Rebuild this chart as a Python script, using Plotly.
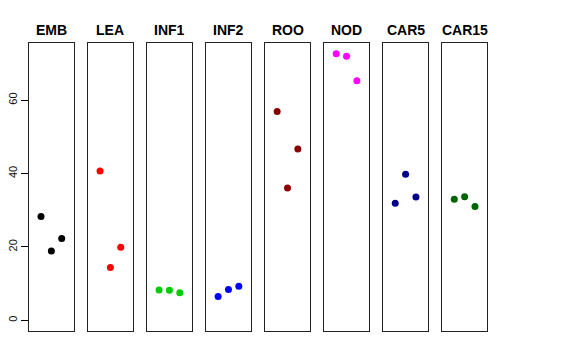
import plotly.graph_objects as go

categories = ["EMB", "LEA", "INF1", "INF2", "ROO", "NOD", "CAR5", "CAR15"]
colors = ["#000000", "#FF0000", "#00CD00", "#0000FF", "#8B0000", "#FF00FF", "#00008B", "#006400"]
positions = [1, 2, 3]
values = {
    "EMB": [28.3, 18.9, 22.3],
    "LEA": [40.7, 14.4, 19.9],
    "INF1": [8.3, 8.2, 7.5],
    "INF2": [6.5, 8.4, 9.3],
    "ROO": [56.9, 36.1, 46.7],
    "NOD": [72.7, 72.0, 65.3],
    "CAR5": [31.9, 39.8, 33.6],
    "CAR15": [33.0, 33.7, 31.0],
}
y_ticks = [0, 20, 40, 60]

W, H = 576, 360
ml, mr, mt, mb = 29, 88, 43, 29
pw = W - ml - mr
step = 59.04
bw = 44.7

ymax = max(max(v) for v in values.values())
ext = ymax * 0.04
yrange = [-ext, ymax + ext]
xrange = [-0.16, 4.16]

fig = go.Figure()
annotations = []
for i, (cat, col) in enumerate(zip(categories, colors)):
    n = i + 1
    xa = "x" if n == 1 else f"x{n}"
    ya = "y" if n == 1 else f"y{n}"
    fig.add_trace(go.Scatter(
        x=positions, y=values[cat], mode="markers",
        marker=dict(color=col, size=7, line=dict(width=0)),
        xaxis=xa, yaxis=ya, showlegend=False, hoverinfo="skip"))
    d0 = (i * step) / pw
    d1 = (i * step + bw) / pw
    xkey = "xaxis" if n == 1 else f"xaxis{n}"
    ykey = "yaxis" if n == 1 else f"yaxis{n}"
    fig.layout[xkey] = dict(domain=[d0, min(d1, 1)], range=xrange, showgrid=False,
                            zeroline=False, showticklabels=False, ticks="",
                            showline=True, mirror=True, linecolor="#222", linewidth=1,
                            anchor=ya, fixedrange=True, automargin=False)
    yax = dict(domain=[0, 1], range=yrange, showgrid=False, zeroline=False,
               showline=True, mirror=True, linecolor="#222", linewidth=1,
               anchor=xa, fixedrange=True, automargin=False)
    if n == 1:
        yax.update(tickvals=y_ticks, ticks="outside", ticklen=7, tickcolor="#000",
                   tickangle=-90, tickfont=dict(size=11, color="#111"), showticklabels=True)
    else:
        yax.update(showticklabels=False, ticks="")
    fig.layout[ykey] = yax
    annotations.append(dict(
        text=f"<b>{cat}</b>", x=(d0 + d1) / 2, y=1, xref="paper", yref="paper",
        xanchor="center", yanchor="bottom", yshift=3, showarrow=False,
        font=dict(size=14, color="#000", family="Liberation Sans, Arial, sans-serif")))

fig.update_layout(
    width=W, height=H, margin=dict(l=ml, r=mr, t=mt, b=mb, pad=0),
    plot_bgcolor="white", paper_bgcolor="white",
    font=dict(family="Liberation Sans, Arial, sans-serif"),
    annotations=annotations,
)
fig.write_html("out.html", config={"displayModeBar": False},
               post_script="document.body.style.margin='0';document.body.style.padding='0';")
